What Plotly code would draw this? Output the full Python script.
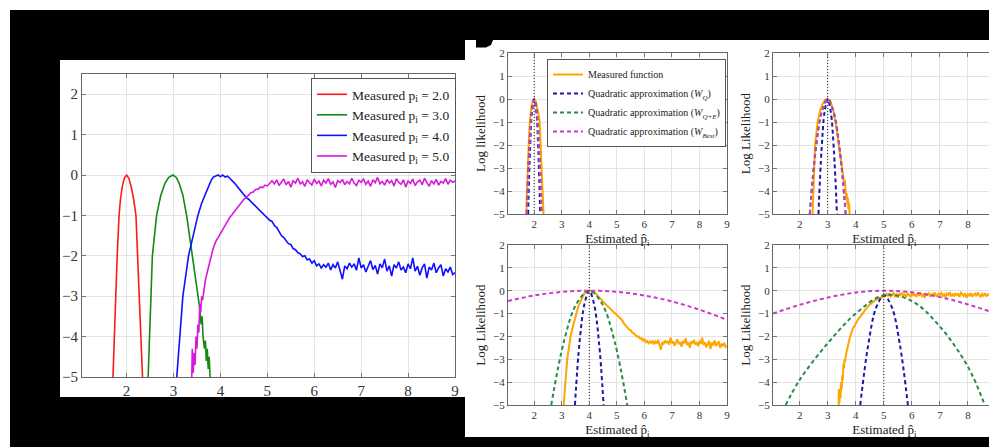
import plotly.graph_objects as go

# The page body adds an 8 px margin, so the figure is laid out in page pixels minus that offset.
OFF = 8
W, H = 997 - OFF, 447 - OFF
FONT = "Liberation Serif"


def px(x):
    return (x - OFF) / W


def py(y):
    return 1 - (y - OFF) / H


# ---------------- data ----------------
TRUE_P = [2.0, 3.0, 4.0, 5.0]
A_LABELS = ["Measured p<sub>i</sub> = 2.0", "Measured p<sub>i</sub> = 3.0",
            "Measured p<sub>i</sub> = 4.0", "Measured p<sub>i</sub> = 5.0"]
X_TICKS = [2, 3, 4, 5, 6, 7, 8, 9]
Y_TICKS = [-5, -4, -3, -2, -1, 0, 1, 2]

meas_p2 = [(1.71, -5.0), (1.735, -4.0), (1.77, -3.0), (1.80, -2.0), (1.84, -1.0), (1.87, -0.6),
           (1.91, -0.28), (1.95, -0.08), (2.0, 0.0), (2.05, -0.08), (2.10, -0.3), (2.15, -0.6),
           (2.20, -1.0), (2.235, -2.0), (2.27, -3.0), (2.305, -4.0), (2.34, -5.0)]

meas_p3 = [(2.46, -5.0), (2.47, -4.6), (2.49, -4.0), (2.51, -3.0), (2.55, -2.0), (2.64, -1.0),
           (2.73, -0.5), (2.82, -0.2), (2.90, -0.06), (2.99, 0.0), (3.06, -0.06), (3.12, -0.2),
           (3.20, -0.5), (3.28, -1.0), (3.34, -1.5), (3.40, -2.0), (3.46, -2.5), (3.52, -3.0),
           (3.56, -3.3), (3.59, -3.7), (3.61, -3.5), (3.63, -4.0), (3.66, -4.3), (3.68, -4.1),
           (3.70, -4.6), (3.72, -4.3), (3.74, -4.8), (3.76, -4.5), (3.78, -5.0)]

meas_p4 = [(3.07, -5.0), (3.10, -4.5), (3.14, -4.0), (3.17, -3.5), (3.20, -3.0), (3.26, -2.5),
           (3.32, -2.0), (3.42, -1.5), (3.52, -1.0), (3.60, -0.7), (3.67, -0.5), (3.74, -0.3),
           (3.80, -0.14), (3.85, -0.05), (3.90, -0.02), (3.95, 0.0), (4.00, -0.04), (4.05, 0.0),
           (4.10, -0.05), (4.15, -0.03), (4.20, -0.08), (4.25, -0.13), (4.30, -0.2), (4.35, -0.27),
           (4.40, -0.35), (4.45, -0.42), (4.50, -0.5), (4.55, -0.56), (4.60, -0.6), (4.65, -0.66),
           (4.70, -0.71), (4.75, -0.78), (4.80, -0.82), (4.85, -0.88), (4.90, -0.95), (4.95, -1.0),
           (5.00, -1.06), (5.05, -1.12), (5.10, -1.15), (5.15, -1.25), (5.20, -1.3), (5.25, -1.42),
           (5.30, -1.5), (5.35, -1.55), (5.40, -1.62), (5.45, -1.7), (5.50, -1.72), (5.55, -1.82),
           (5.60, -1.85), (5.65, -1.92), (5.70, -1.95), (5.75, -2.02), (5.80, -2.0), (5.85, -2.1),
           (5.90, -2.08), (5.95, -2.18), (6.00, -2.12), (6.05, -2.25), (6.10, -2.2), (6.15, -2.3),
           (6.20, -2.22), (6.25, -2.28), (6.30, -2.18), (6.35, -2.35), (6.40, -2.22), (6.45, -2.30),
           (6.50, -2.15), (6.55, -2.40), (6.60, -2.58), (6.65, -2.25), (6.70, -2.32), (6.75, -2.18),
           (6.80, -2.28), (6.85, -2.20), (6.90, -2.36), (6.95, -2.05), (7.00, -2.30), (7.05, -2.22),
           (7.10, -2.40), (7.15, -2.26), (7.20, -2.12), (7.25, -2.34), (7.30, -2.24), (7.35, -2.45),
           (7.40, -2.20), (7.45, -2.30), (7.50, -2.08), (7.55, -2.38), (7.60, -2.25), (7.65, -2.50),
           (7.70, -2.22), (7.75, -2.30), (7.80, -2.15), (7.85, -2.35), (7.90, -2.28), (7.95, -2.42),
           (8.00, -2.20), (8.05, -2.32), (8.10, -2.05), (8.15, -2.38), (8.20, -2.26), (8.25, -2.48),
           (8.30, -2.30), (8.35, -2.20), (8.40, -2.55), (8.45, -2.28), (8.50, -2.35), (8.55, -2.18),
           (8.60, -2.42), (8.65, -2.30), (8.70, -2.22), (8.75, -2.50), (8.80, -2.32), (8.85, -2.40),
           (8.90, -2.28), (8.95, -2.46), (9.00, -2.42)]

meas_p5 = [(3.39, -5.0), (3.40, -4.3), (3.42, -4.9), (3.44, -4.4), (3.46, -4.7), (3.48, -4.0),
           (3.50, -4.3), (3.52, -3.7), (3.54, -3.9), (3.56, -3.2), (3.58, -3.4), (3.60, -3.0),
           (3.62, -3.1), (3.65, -2.8), (3.68, -2.6), (3.72, -2.4), (3.76, -2.2), (3.80, -2.0),
           (3.85, -1.8), (3.90, -1.65), (3.95, -1.55), (4.00, -1.42), (4.05, -1.35), (4.10, -1.22),
           (4.15, -1.15), (4.20, -1.05), (4.25, -0.98), (4.30, -0.9), (4.35, -0.82), (4.40, -0.74),
           (4.45, -0.68), (4.50, -0.6), (4.55, -0.56), (4.60, -0.5), (4.65, -0.44), (4.70, -0.42),
           (4.75, -0.36), (4.80, -0.35), (4.85, -0.3), (4.90, -0.31), (4.95, -0.25), (5.00, -0.27),
           (5.05, -0.2), (5.10, -0.14), (5.15, -0.22), (5.20, -0.12), (5.25, -0.26), (5.30, -0.18),
           (5.35, -0.10), (5.40, -0.24), (5.45, -0.16), (5.50, -0.30), (5.55, -0.14), (5.60, -0.20),
           (5.65, -0.08), (5.70, -0.22), (5.75, -0.17), (5.80, -0.28), (5.85, -0.12), (5.90, -0.19),
           (5.95, -0.25), (6.00, -0.10), (6.05, -0.21), (6.10, -0.15), (6.15, -0.27), (6.20, -0.13),
           (6.25, -0.20), (6.30, -0.09), (6.35, -0.23), (6.40, -0.17), (6.45, -0.31), (6.50, -0.14),
           (6.55, -0.19), (6.60, -0.11), (6.65, -0.24), (6.70, -0.16), (6.75, -0.22), (6.80, -0.08),
           (6.85, -0.20), (6.90, -0.26), (6.95, -0.13), (7.00, -0.18), (7.05, -0.10), (7.10, -0.23),
           (7.15, -0.15), (7.20, -0.28), (7.25, -0.12), (7.30, -0.19), (7.35, -0.06), (7.40, -0.22),
           (7.45, -0.16), (7.50, -0.25), (7.55, -0.11), (7.60, -0.20), (7.65, -0.14), (7.70, -0.27),
           (7.75, -0.09), (7.80, -0.18), (7.85, -0.23), (7.90, -0.12), (7.95, -0.30), (8.00, -0.15),
           (8.05, -0.21), (8.10, -0.10), (8.15, -0.26), (8.20, -0.17), (8.25, -0.13), (8.30, -0.24),
           (8.35, -0.08), (8.40, -0.19), (8.45, -0.28), (8.50, -0.14), (8.55, -0.22), (8.60, -0.11),
           (8.65, -0.25), (8.70, -0.16), (8.75, -0.20), (8.80, -0.09), (8.85, -0.23), (8.90, -0.13),
           (8.95, -0.18), (9.00, -0.15)]

MEASURED = [meas_p2, meas_p3, meas_p4, meas_p5]

# quadratic approximations
wq_x = [[1.78, 1.85, 1.92, 2.0, 2.08, 2.15, 2.22],
        [2.67, 2.78, 2.89, 3.0, 3.11, 3.22, 3.33],
        [3.48, 3.65, 3.83, 4.0, 4.17, 4.35, 4.52],
        [4.16, 4.45, 4.73, 5.01, 5.29, 5.57, 5.86]]
wq_y = [[-5, -2.22, -0.56, 0, -0.56, -2.22, -5],
        [-5, -2.22, -0.56, 0, -0.56, -2.22, -5],
        [-5, -2.22, -0.56, 0, -0.56, -2.22, -5],
        [-5, -2.33, -0.73, -0.2, -0.73, -2.33, -5]]

wqe_x = [[1.73, 1.82, 1.91, 2.0, 2.09, 2.18, 2.27],
         [2.36, 2.57, 2.79, 3.0, 3.21, 3.43, 3.64],
         [2.62, 3.08, 3.54, 4.0, 4.46, 4.92, 5.38],
         [1.5, 2.0, 3.0, 4.0, 5.0, 6.0, 7.0, 8.0, 8.6]]
wqe_y = [[-5, -2.22, -0.56, 0, -0.56, -2.22, -5],
         [-5, -2.22, -0.56, 0, -0.56, -2.22, -5],
         [-5, -2.22, -0.56, 0, -0.56, -2.22, -5],
         [-5, -3.9, -2.3, -1.0, -0.2, -0.45, -1.57, -3.33, -5]]

wbest_x = [[1.73, 1.82, 1.91, 2.0, 2.09, 2.18, 2.27],
           [2.36, 2.57, 2.79, 3.0, 3.21, 3.43, 3.64],
           [1.05, 2.0, 3.0, 4.0, 5.0, 6.0, 7.0, 8.0, 9.0],
           [1.05, 2.0, 3.0, 4.0, 5.0, 6.0, 7.0, 8.0, 9.0]]
wbest_y = [[-5, -2.22, -0.56, 0, -0.56, -2.22, -5],
           [-5, -2.22, -0.56, 0, -0.56, -2.22, -5],
           [-0.45, -0.21, -0.05, 0, -0.05, -0.21, -0.47, -0.83, -1.27],
           [-1.0, -0.62, -0.3, -0.08, 0, -0.07, -0.28, -0.6, -1.0]]

B_NAMES = ["Measured function",
           "Quadratic approximation (<i>W</i><sub><i>Q</i></sub>)",
           "Quadratic approximation (<i>W</i><sub><i>Q+E</i></sub>)",
           "Quadratic approximation (<i>W</i><sub><i>Best</i></sub>)"]
B_YTITLES = ["Log likelihood", "Log Likelihood", "Log Likelihood", "Log Likelihood"]

A_COLORS = ["#ff1a1a", "#108a10", "#1010ff", "#d81ad8"]
C_MEAS, C_WQ, C_WQE, C_WB = "#ffa500", "#1a1aa8", "#2a8a4a", "#c83cc8"

# ---------------- figure ----------------
fig = go.Figure()

for curve, label, color in zip(MEASURED, A_LABELS, A_COLORS):
    fig.add_trace(go.Scatter(x=[p[0] for p in curve], y=[p[1] for p in curve], mode="lines",
                             line=dict(color=color, width=1.6), name=label, legend="legend",
                             xaxis="x", yaxis="y"))

DASH = "4px,3px"
for k in range(4):
    s = str(k + 2)
    xa, ya = "x" + s, "y" + s
    show = k == 0
    m = MEASURED[k]
    fig.add_trace(go.Scatter(x=[p[0] for p in m], y=[p[1] for p in m], mode="lines",
                             line=dict(color=C_MEAS, width=2), name=B_NAMES[0], legend="legend2",
                             showlegend=show, xaxis=xa, yaxis=ya))
    fig.add_trace(go.Scatter(x=wq_x[k], y=wq_y[k], mode="lines", line_shape="spline",
                             line=dict(color=C_WQ, width=2, dash=DASH), name=B_NAMES[1],
                             legend="legend2", showlegend=show, xaxis=xa, yaxis=ya))
    fig.add_trace(go.Scatter(x=wqe_x[k], y=wqe_y[k], mode="lines", line_shape="spline",
                             line=dict(color=C_WQE, width=2, dash=DASH), name=B_NAMES[2],
                             legend="legend2", showlegend=show, xaxis=xa, yaxis=ya))
    fig.add_trace(go.Scatter(x=wbest_x[k], y=wbest_y[k], mode="lines", line_shape="spline",
                             line=dict(color=C_WB, width=2, dash=DASH), name=B_NAMES[3],
                             legend="legend2", showlegend=show, xaxis=xa, yaxis=ya))
    fig.add_trace(go.Scatter(x=[TRUE_P[k], TRUE_P[k]], y=[Y_TICKS[0], Y_TICKS[-1]], mode="lines",
                             line=dict(color="#222222", width=1, dash="1px,2px"), showlegend=False,
                             hoverinfo="skip", xaxis=xa, yaxis=ya))


def axis(domain, rng, ticks, fsize, anchor, title=None, tsize=13):
    d = dict(domain=domain, range=rng, tickvals=ticks, showline=True, linecolor="#666666",
             linewidth=1, mirror="allticks", ticks="inside", ticklen=4, tickcolor="#777777",
             showgrid=True, gridcolor="#e4e4e4", gridwidth=1, zeroline=False, anchor=anchor,
             tickfont=dict(family=FONT, size=fsize, color="#333333"), fixedrange=True)
    if title:
        d["title"] = dict(text=title, font=dict(family=FONT, size=tsize, color="#222222"),
                          standoff=4)
    return d


XR = [1.05, 9]
xl = [px(508), px(727)]
xr = [px(773), min(1.0, px(996))]
yt = [py(214), py(53)]
yb = [py(405), py(245)]
XT = "Estimated p\u0302<sub>i</sub>"

layout_axes = dict(
    xaxis=axis([px(82), px(455)], XR, X_TICKS, 15, "y"),
    yaxis=axis([py(377), py(74)], [-5, 2.5], Y_TICKS, 15, "x"),
    xaxis2=axis(xl, XR, X_TICKS, 11, "y2", XT),
    yaxis2=axis(yt, [-5, 2], Y_TICKS, 11, "x2", B_YTITLES[0]),
    xaxis3=axis(xr, XR, X_TICKS, 11, "y3", XT),
    yaxis3=axis(yt, [-5, 2], Y_TICKS, 11, "x3", B_YTITLES[1]),
    xaxis4=axis(xl, XR, X_TICKS, 11, "y4", XT),
    yaxis4=axis(yb, [-5, 2], Y_TICKS, 11, "x4", B_YTITLES[2]),
    xaxis5=axis(xr, XR, X_TICKS, 11, "y5", XT),
    yaxis5=axis(yb, [-5, 2], Y_TICKS, 11, "x5", B_YTITLES[3]),
)

shapes = [
    dict(type="rect", xref="paper", yref="paper", x0=px(10), x1=1, y0=0, y1=py(10),
         fillcolor="black", line=dict(width=0), layer="below"),
    dict(type="rect", xref="paper", yref="paper", x0=px(60), x1=px(465), y0=py(397), y1=py(60),
         fillcolor="white", line=dict(width=0), layer="below"),
    dict(type="rect", xref="paper", yref="paper", x0=px(465), x1=1, y0=py(437), y1=py(40),
         fillcolor="white", line=dict(width=0), layer="below"),
    # visible lower edge of the clipped panel letter "B"
    dict(type="path", xref="paper", yref="paper", layer="below",
         path=f"M {px(476)},{py(40)} L {px(493)},{py(40)} L {px(491)},{py(45)} "
              f"L {px(486)},{py(47.5)} L {px(476)},{py(47.5)} Z",
         fillcolor="black", line=dict(width=0)),
]

fig.update_layout(
    template="none",
    width=W, height=H, autosize=False,
    margin=dict(l=0, r=0, t=0, b=0, pad=0),
    paper_bgcolor="white", plot_bgcolor="white",
    shapes=shapes,
    showlegend=True,
    legend=dict(x=px(456), xanchor="right", y=py(78), yanchor="top", bgcolor="white",
                bordercolor="#555555", borderwidth=1, itemwidth=30, tracegroupgap=0,
                font=dict(family=FONT, size=13.5, color="#222222")),
    legend2=dict(x=px(547), xanchor="left", y=py(59), yanchor="top", bgcolor="white",
                 bordercolor="#555555", borderwidth=1, itemwidth=30, tracegroupgap=0,
                 font=dict(family=FONT, size=10, color="#222222")),
    **layout_axes,
)

fig.write_html("out.html")
